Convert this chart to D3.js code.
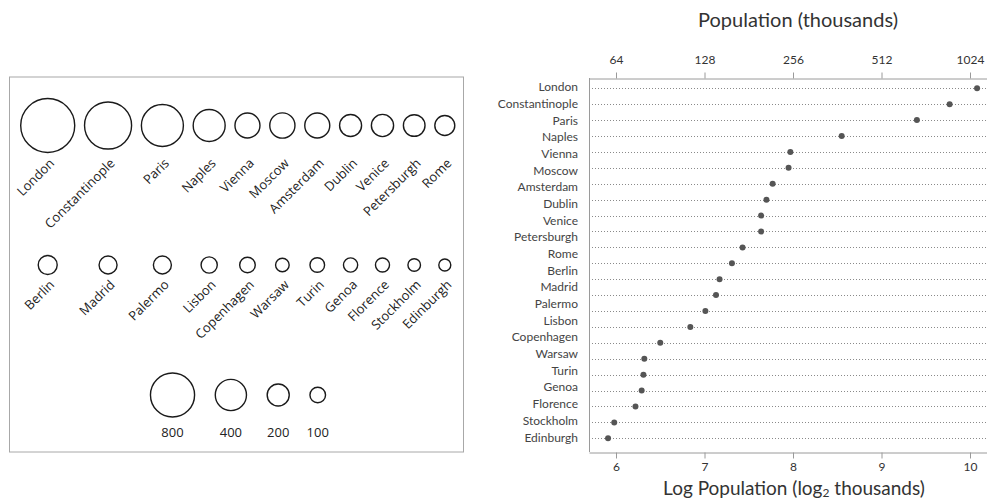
<!DOCTYPE html>
<html>
<head>
<meta charset="utf-8">
<script src="https://cdn.jsdelivr.net/npm/d3@7"></script>
<style>
  html, body { margin: 0; padding: 0; background: #fff; }
  svg { display: block; }
</style>
</head>
<body>
<svg id="chart" width="987" height="499"></svg>
<script>
// Principal cities of Europe, ordered by population
const cities = ["London", "Constantinople", "Paris", "Naples", "Vienna", "Moscow",
  "Amsterdam", "Dublin", "Venice", "Petersburgh", "Rome", "Berlin", "Madrid",
  "Palermo", "Lisbon", "Copenhagen", "Warsaw", "Turin", "Genoa", "Florence",
  "Stockholm", "Edinburgh"];

// Population (thousands) shown by circle area
const bubblePop = [1200, 910, 725, 420, 257, 261, 257, 199, 203, 192, 164,
  148, 133, 133, 108, 100, 76, 88, 83, 81, 65, 59];

// Reference circles for the size key
const legendPop = [800, 400, 200, 100];

// Dot plot rows, log2 of population in thousands
const dotLog2 = [10.08, 9.77, 9.40, 8.55, 7.97, 7.95, 7.77, 7.70, 7.64, 7.64,
  7.43, 7.31, 7.17, 7.13, 7.01, 6.84, 6.50, 6.32, 6.31, 6.29, 6.22, 5.98, 5.91];

// Axis ticks (log2 units); top axis shows 2^tick
const log2Ticks = [6, 7, 8, 9, 10];

const svg = d3.select("#chart");

/* ---------- Left panel: proportional circles ---------- */
const left = svg.append("g");
const frame = { x: 9.5, y: 77, w: 454, h: 375 };
left.append("rect")
  .attr("x", frame.x).attr("y", frame.y)
  .attr("width", frame.w).attr("height", frame.h)
  .attr("fill", "none").attr("stroke", "#a8a8a8").attr("stroke-width", 1);

const rScale = d3.scaleSqrt().domain([0, 800]).range([0, 22.06]);
const perRow = 11;
const gap = 9.8;
const rows = [cities.slice(0, perRow), cities.slice(perRow)];
const rowPop = [bubblePop.slice(0, perRow), bubblePop.slice(perRow)];

// column centres packed from the first (largest) row
const colX = [];
rowPop[0].forEach((p, i) => {
  const r = rScale(p);
  if (i === 0) colX.push(20.7 + r);
  else colX.push(colX[i - 1] + rScale(rowPop[0][i - 1]) + r + gap);
});

const rowCy = [125.5, 265];
const labelY = [164, 285.5];

rows.forEach((names, ri) => {
  const g = left.append("g");
  g.selectAll("circle").data(names).join("circle")
    .attr("cx", (d, i) => colX[i])
    .attr("cy", rowCy[ri])
    .attr("r", (d, i) => rScale(rowPop[ri][i]))
    .attr("fill", "none").attr("stroke", "#1a1a1a").attr("stroke-width", 1.4);
  g.selectAll("text").data(names).join("text")
    .attr("transform", (d, i) => `translate(${colX[i] + 7.5},${labelY[ri]}) rotate(-45)`)
    .attr("text-anchor", "end")
    .attr("font-family", "'Open Sans', sans-serif")
    .attr("font-size", 13)
    .attr("fill", "#222")
    .text(d => d);
});

// size key
const legR = legendPop.map(p => rScale(p));
const legGap = 20.7;
const legWidth = d3.sum(legR) * 2 + legGap * (legR.length - 1);
const legX = [];
let cursor = frame.x + frame.w / 2 + 1.5 - legWidth / 2;
legR.forEach(r => { legX.push(cursor + r); cursor += 2 * r + legGap; });
const legCy = 395;
const leg = left.append("g");
leg.selectAll("circle").data(legendPop).join("circle")
  .attr("cx", (d, i) => legX[i]).attr("cy", legCy)
  .attr("r", d => rScale(d))
  .attr("fill", "none").attr("stroke", "#1a1a1a").attr("stroke-width", 1.4);
leg.selectAll("text").data(legendPop).join("text")
  .attr("x", (d, i) => legX[i]).attr("y", 437)
  .attr("text-anchor", "middle")
  .attr("font-family", "'Open Sans', sans-serif")
  .attr("font-size", 13)
  .attr("fill", "#222")
  .text(d => d);

/* ---------- Right panel: dot plot on log2 scale ---------- */
const plot = { left: 589, right: 1000, top: 78, bottom: 452 };
const x = d3.scaleLinear().domain([6, 10]).range([616, 970]);
const xr = x.copy().domain([x.invert(plot.left), x.invert(plot.right)]).range([plot.left, plot.right]);

const yLabel = d3.scalePoint().domain(cities).range([87, 437.3]);
const yDot = d3.scalePoint().domain(d3.range(dotLog2.length)).range([88.3, 438.3]);

const right = svg.append("g");
const font = "Lato, 'Open Sans', sans-serif";

// left edge of the plotting frame
right.append("line")
  .attr("x1", plot.left + 0.5).attr("x2", plot.left + 0.5)
  .attr("y1", plot.top).attr("y2", plot.bottom)
  .attr("stroke", "#9a9a9a");

// dotted guide lines
right.selectAll("line.guide").data(dotLog2).join("line")
  .attr("class", "guide")
  .attr("x1", plot.left + 3).attr("x2", plot.right)
  .attr("y1", (d, i) => Math.round(yDot(i)) + 0.5)
  .attr("y2", (d, i) => Math.round(yDot(i)) + 0.5)
  .attr("stroke", "#8a8a8a").attr("stroke-width", 1)
  .attr("stroke-dasharray", "1,2");

// top axis: population in thousands
const topAxis = d3.axisTop(xr).tickValues(log2Ticks)
  .tickFormat(d => String(2 ** d)).tickSize(6).tickSizeOuter(0).tickPadding(9);
const gTop = right.append("g").attr("transform", `translate(0,${plot.top + 0.5})`).call(topAxis);

// bottom axis: log2 values
const bottomAxis = d3.axisBottom(xr).tickValues(log2Ticks)
  .tickFormat(d3.format("d")).tickSize(6).tickSizeOuter(0).tickPadding(4);
const gBot = right.append("g").attr("transform", `translate(0,${plot.bottom + 0.5})`).call(bottomAxis);

[gTop, gBot].forEach(g => {
  g.select(".domain").attr("stroke", "#9a9a9a");
  g.selectAll(".tick line").attr("stroke", "#9a9a9a");
  g.selectAll(".tick text").attr("font-family", font).attr("font-size", 12).attr("fill", "#333");
});

// dots
right.selectAll("circle.dot").data(dotLog2).join("circle")
  .attr("class", "dot")
  .attr("cx", d => xr(d))
  .attr("cy", (d, i) => yDot(i))
  .attr("r", 3)
  .attr("fill", "#555");

// city labels
right.selectAll("text.city").data(cities).join("text")
  .attr("class", "city")
  .attr("x", 578).attr("y", d => yLabel(d))
  .attr("dy", "0.35em")
  .attr("text-anchor", "end")
  .attr("font-family", font).attr("font-size", 12)
  .attr("fill", "#444")
  .text(d => d);

// axis titles
right.append("text")
  .attr("x", 798).attr("y", 27)
  .attr("text-anchor", "middle")
  .attr("font-family", font).attr("font-size", 20).attr("fill", "#333")
  .text("Population (thousands)");

const bt = right.append("text")
  .attr("x", 794).attr("y", 494.5)
  .attr("text-anchor", "middle")
  .attr("font-family", font).attr("font-size", 19).attr("fill", "#333");
bt.append("tspan").text("Log Population (log");
bt.append("tspan").attr("font-size", 12).attr("dy", 2.5).text("2");
bt.append("tspan").attr("dy", -2.5).text(" thousands)");
</script>
</body>
</html>
